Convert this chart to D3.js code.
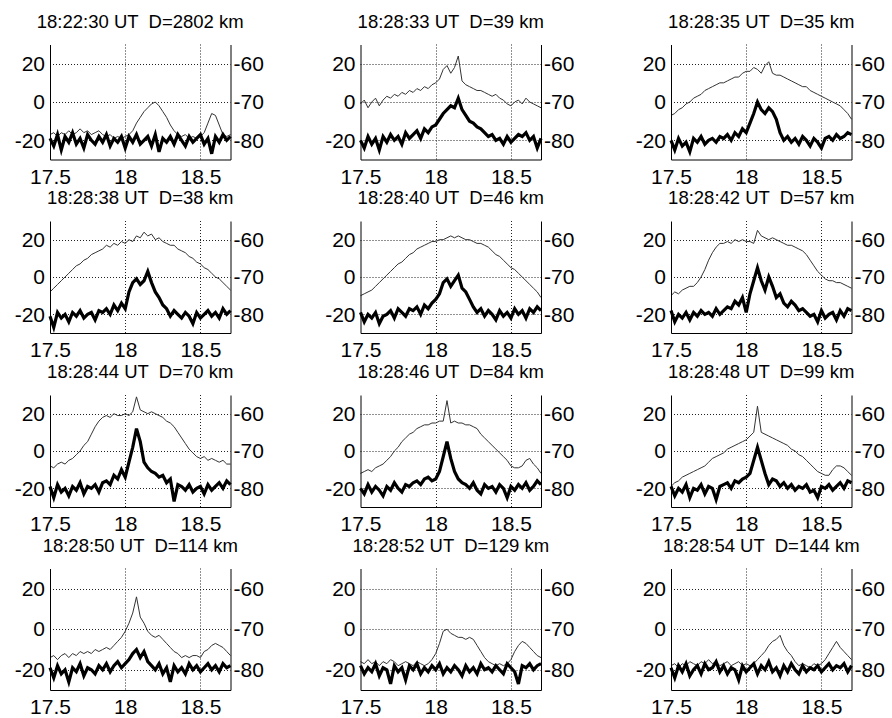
<!DOCTYPE html>
<html>
<head>
<meta charset="utf-8">
<script src="https://cdn.jsdelivr.net/npm/d3@7"></script>
<style>
    body { margin: 0; background: #fff; }
    svg { display: block; font-family: "Liberation Sans", Arial, sans-serif; }
</style>
</head>
<body>
<svg></svg>
<script>
"use strict";

// frequency axis (GHz), shared by every panel
var freq = [
    17.5, 17.525, 17.55, 17.575, 17.6, 17.625, 17.65,
    17.675, 17.7, 17.725, 17.75, 17.775, 17.8, 17.825,
    17.85, 17.875, 17.9, 17.925, 17.95, 17.975, 18,
    18.025, 18.05, 18.075, 18.1, 18.125, 18.15, 18.175,
    18.2, 18.225, 18.25, 18.275, 18.3, 18.325, 18.35,
    18.375, 18.4, 18.425, 18.45, 18.475, 18.5, 18.525,
    18.55, 18.575, 18.6, 18.625, 18.65, 18.675, 18.7
];

var titles = [
    '18:22:30 UT  D=2802 km', '18:28:33 UT  D=39 km', '18:28:35 UT  D=35 km',
    '18:28:38 UT  D=38 km', '18:28:40 UT  D=46 km', '18:28:42 UT  D=57 km',
    '18:28:44 UT  D=70 km', '18:28:46 UT  D=84 km', '18:28:48 UT  D=99 km',
    '18:28:50 UT  D=114 km', '18:28:52 UT  D=129 km', '18:28:54 UT  D=144 km'
];

var xTicks = [17.5, 18, 18.5];
var yTicks = [20, 0, -20];
var yRightTicks = [-60, -70, -80];

// thin trace, one row of 7 per 0.175 GHz
var thin = [
    [-17,-16,-18,-16,-17,-15,-17, -16,-14,-16,-15,-17,-16,-15, -17,-18,-17,-19,-18,-19,-18,
     -17,-15,-11,-8,-5,-3,-1, 0,-2,-5,-8,-12,-15,-17, -18,-17,-19,-18,-19,-18,-16, -11,-6,-7,-12,-17,-18,-17],
    [-1,1,-3,0,2,-2,1, 3,2,4,3,5,4,6, 5,7,6,8,7,9,10,
     12,17,19,15,18,24,11, 9,8,7,6,6,5,4, 3,4,2,1,-1,-2,0, 1,-1,2,0,-1,-2,-3],
    [-7,-6,-4,-3,-1,0,2, 3,4,6,7,8,9,10, 10,11,12,13,13,15,16,
     16,18,17,15,19,21,15, 14,14,13,12,11,10,9, 8,8,6,5,4,3,2, 1,0,-1,-2,-4,-6,-9],
    [-8,-6,-4,-2,0,2,4, 6,7,9,10,12,13,14, 15,17,16,18,17,19,18,
     20,19,22,21,24,22,23, 20,21,19,18,17,17,15, 14,13,11,10,8,7,5, 4,2,0,-1,-3,-5,-7],
    [-10,-9,-8,-7,-5,-3,-1, 1,3,5,7,8,10,12, 13,15,16,17,18,19,19,
     20,20,21,22,21,22,21, 20,20,19,18,18,17,16, 14,12,11,9,7,5,4, 2,0,-2,-4,-6,-8,-11],
    [-10,-8,-9,-7,-6,-5,-5, -3,0,4,9,13,16,18, 18,19,18,20,19,20,19,
     19,18,25,22,21,20,21, 20,19,18,17,17,16,15, 14,12,9,6,3,1,-1, -2,-2,-3,-3,-4,-5,-6],
    [-8,-9,-7,-6,-7,-5,-4, -2,0,3,5,9,13,16, 18,19,18,20,19,19,20,
     19,21,29,22,21,20,21, 20,19,18,16,15,13,10, 7,4,1,-1,-3,-4,-3, -5,-4,-5,-6,-5,-7,-7],
    [-12,-11,-10,-11,-9,-8,-7, -5,-3,0,2,5,7,9, 10,12,13,14,14,15,15,
     16,16,27,15,16,15,15, 14,14,13,12,9,7,5, 3,1,-1,-3,-5,-8,-9, -9,-8,-5,-4,-7,-9,-12],
    [-19,-17,-16,-14,-13,-12,-11, -10,-9,-8,-6,-4,-3,-2, -1,1,2,3,4,5,6,
     8,10,24,10,9,8,7, 6,5,4,3,1,0,-2, -3,-5,-7,-9,-11,-12,-13, -13,-10,-8,-8,-9,-11,-13],
    [-14,-13,-15,-13,-12,-14,-12, -13,-11,-12,-11,-12,-10,-11, -10,-9,-10,-8,-6,-4,-1,
     3,8,16,6,3,-1,-3, -4,-3,-5,-7,-9,-11,-12, -14,-13,-14,-13,-13,-14,-11, -10,-8,-7,-8,-9,-11,-13],
    [-16,-17,-15,-17,-16,-18,-16, -17,-15,-16,-18,-17,-16,-17, -18,-16,-17,-18,-17,-15,-12,
     -7,-1,0,-2,-3,-4,-4, -5,-4,-5,-8,-11,-14,-16, -17,-18,-17,-18,-17,-15,-11, -8,-6,-7,-9,-11,-13,-14],
    [-18,-17,-19,-17,-18,-16,-17, -18,-16,-17,-15,-17,-16,-18, -17,-16,-18,-17,-16,-18,-17,
     -18,-17,-15,-13,-11,-8,-6, -5,-3,-8,-11,-13,-16,-18, -17,-18,-19,-17,-18,-17,-15, -12,-9,-6,-9,-11,-13,-15]
];

// thick trace
var thick = [
    [-19,-23,-17,-25,-18,-21,-16, -22,-19,-24,-17,-20,-22,-18, -21,-17,-23,-19,-21,-18,-24,
     -18,-21,-17,-22,-20,-18,-23, -17,-26,-19,-21,-18,-22,-17, -20,-23,-18,-21,-19,-17,-22, -19,-27,-18,-21,-17,-20,-18],
    [-20,-24,-18,-22,-19,-25,-18, -21,-17,-20,-18,-22,-16,-19, -17,-15,-19,-14,-16,-13,-12,
     -9,-6,-4,-2,-3,2,-4, -7,-10,-11,-13,-14,-16,-18, -17,-20,-19,-22,-18,-21,-19, -17,-18,-16,-20,-18,-24,-19],
    [-20,-25,-19,-23,-21,-26,-19, -21,-18,-22,-20,-19,-21,-18, -19,-17,-20,-16,-18,-14,-16,
     -11,-6,0,-4,-6,-3,-5, -9,-16,-20,-18,-21,-19,-22, -18,-20,-23,-19,-21,-24,-19, -18,-20,-17,-19,-18,-16,-17],
    [-21,-27,-19,-22,-20,-24,-19, -21,-18,-22,-20,-19,-23,-18, -19,-17,-20,-15,-18,-14,-17,
     -8,-3,-1,-4,-2,3,-3, -8,-11,-15,-17,-21,-18,-20, -22,-19,-21,-25,-19,-22,-20, -18,-21,-19,-22,-17,-20,-18],
    [-19,-24,-20,-22,-19,-25,-21, -20,-18,-22,-17,-19,-21,-17, -18,-16,-20,-15,-17,-14,-12,
     -9,-3,-1,-5,-2,1,-6, -8,-12,-16,-19,-17,-21,-18, -20,-23,-18,-21,-19,-22,-17, -20,-18,-22,-17,-19,-16,-18],
    [-18,-24,-20,-22,-19,-23,-19, -21,-18,-20,-19,-21,-17,-20, -18,-16,-17,-13,-15,-11,-19,
     -9,-2,5,-2,-7,0,-5, -11,-9,-14,-16,-13,-15,-18, -17,-19,-21,-20,-24,-18,-22, -20,-19,-23,-18,-21,-17,-18],
    [-19,-25,-18,-22,-20,-24,-19, -21,-17,-23,-19,-20,-18,-22, -17,-16,-18,-13,-15,-10,-14,
     -6,2,12,5,-6,-9,-11, -12,-14,-13,-17,-15,-27,-18, -19,-21,-18,-22,-20,-19,-23, -18,-21,-19,-17,-20,-16,-18],
    [-20,-23,-18,-22,-19,-21,-24, -19,-21,-17,-20,-22,-18,-19, -17,-16,-18,-15,-14,-16,-15,
     -11,-3,5,-4,-11,-15,-17, -18,-20,-17,-21,-23,-18,-20, -19,-22,-18,-20,-25,-19,-21, -18,-20,-17,-21,-19,-16,-18],
    [-19,-24,-20,-22,-18,-25,-20, -21,-18,-23,-19,-20,-26,-19, -18,-17,-20,-16,-17,-15,-14,
     -12,-5,2,-5,-12,-18,-15, -16,-19,-17,-20,-18,-21,-19, -20,-18,-22,-21,-25,-19,-20, -18,-21,-19,-17,-20,-16,-17],
    [-19,-24,-18,-22,-20,-26,-19, -21,-17,-23,-19,-20,-22,-18, -20,-17,-21,-18,-16,-19,-17,
     -15,-12,-10,-14,-11,-16,-18, -20,-17,-22,-19,-26,-18,-21, -19,-22,-17,-20,-18,-21,-19, -17,-20,-18,-21,-17,-19,-18],
    [-18,-22,-19,-21,-17,-23,-19, -20,-27,-18,-21,-19,-25,-18, -20,-17,-22,-19,-21,-18,-20,
     -17,-22,-19,-21,-18,-20,-23, -18,-21,-19,-22,-17,-20,-19, -21,-18,-20,-22,-17,-19,-21, -27,-18,-19,-17,-20,-18,-17],
    [-19,-24,-18,-21,-17,-23,-20, -18,-22,-17,-20,-19,-16,-21, -18,-22,-19,-20,-25,-18,-21,
     -19,-17,-22,-18,-20,-16,-21, -19,-23,-18,-21,-17,-20,-22, -18,-21,-19,-20,-18,-21,-19, -17,-20,-18,-19,-17,-21,-18]
];

var settings = {
    svg: { width: 892, height: 718 },
    cols: [50, 360.5, 671],
    panelWidth: 180.5,
    rows: [[44.5, 159.5], [221, 333], [395, 507], [568.5, 690]],
    font: { tick: 21, title: 18.5 }
};

var svg = d3.select('svg')
    .attr('width', settings.svg.width)
    .attr('height', settings.svg.height);

// plain hyphen minus like the original, not the unicode minus of d3.format
var plain = d => String(d);

titles.forEach((title, idx) => {
    var left = settings.cols[idx % 3],
        right = left + settings.panelWidth,
        top = settings.rows[Math.floor(idx / 3)][0],
        bottom = settings.rows[Math.floor(idx / 3)][1];

    var x = d3.scaleLinear().domain([17.5, 18.7]).range([left, right]);
    var y = d3.scaleLinear().domain([-30, 30]).range([bottom, top]);
    var yRight = d3.scaleLinear().domain([-85, -55]).range([bottom, top]);

    var g = svg.append('g').attr('class', 'panel');

    // dotted grid
    g.append('g')
        .selectAll('line')
        .data(yTicks)
        .enter()
        .append('line')
        .attr('x1', left).attr('x2', right)
        .attr('y1', d => Math.round(y(d)) + 0.5)
        .attr('y2', d => Math.round(y(d)) + 0.5)
        .attr('stroke', '#222')
        .attr('stroke-width', 1)
        .attr('stroke-dasharray', '1,2');

    g.append('g')
        .selectAll('line')
        .data(xTicks.slice(1))
        .enter()
        .append('line')
        .attr('x1', d => Math.round(x(d)) + 0.5)
        .attr('x2', d => Math.round(x(d)) + 0.5)
        .attr('y1', top).attr('y2', bottom)
        .attr('stroke', '#222')
        .attr('stroke-width', 1)
        .attr('stroke-dasharray', '1,2');

    var line = d3.line()
        .x((d, i) => x(freq[i]))
        .y(d => y(d));

    g.append('path')
        .datum(thin[idx])
        .attr('d', line)
        .attr('fill', 'none')
        .attr('stroke', '#333')
        .attr('stroke-width', 1)
        .attr('stroke-linejoin', 'round');

    g.append('path')
        .datum(thick[idx])
        .attr('d', line)
        .attr('fill', 'none')
        .attr('stroke', '#000')
        .attr('stroke-width', 3.2)
        .attr('stroke-linejoin', 'miter');

    // axes
    g.append('g')
        .attr('transform', `translate(0,${bottom})`)
        .call(d3.axisBottom(x).tickValues(xTicks).tickFormat(plain).tickSize(0).tickPadding(9.5))
        .call(a => a.selectAll('text').attr('font-size', settings.font.tick).attr('fill', '#000'))
        .call(a => a.select('.domain').attr('stroke', '#000'));

    g.append('g')
        .attr('transform', `translate(${left},0)`)
        .call(d3.axisLeft(y).tickValues(yTicks).tickFormat(plain).tickSize(0).tickPadding(5))
        .call(a => a.selectAll('text').attr('font-size', settings.font.tick).attr('fill', '#000'))
        .call(a => a.select('.domain').attr('stroke', '#000'));

    g.append('g')
        .attr('transform', `translate(${right},0)`)
        .call(d3.axisRight(yRight).tickValues(yRightTicks).tickFormat(plain).tickSize(0).tickPadding(3))
        .call(a => a.selectAll('text').attr('font-size', settings.font.tick).attr('fill', '#000'))
        .call(a => a.select('.domain').attr('stroke', '#000'));

    g.selectAll('.tick text').attr('font-family', '"Liberation Sans", Arial, sans-serif');

    g.append('text')
        .attr('x', (left + right) / 2)
        .attr('y', top - 17)
        .attr('text-anchor', 'middle')
        .attr('font-size', settings.font.title)
        .style('white-space', 'pre')
        .text(title);
});
</script>
</body>
</html>
